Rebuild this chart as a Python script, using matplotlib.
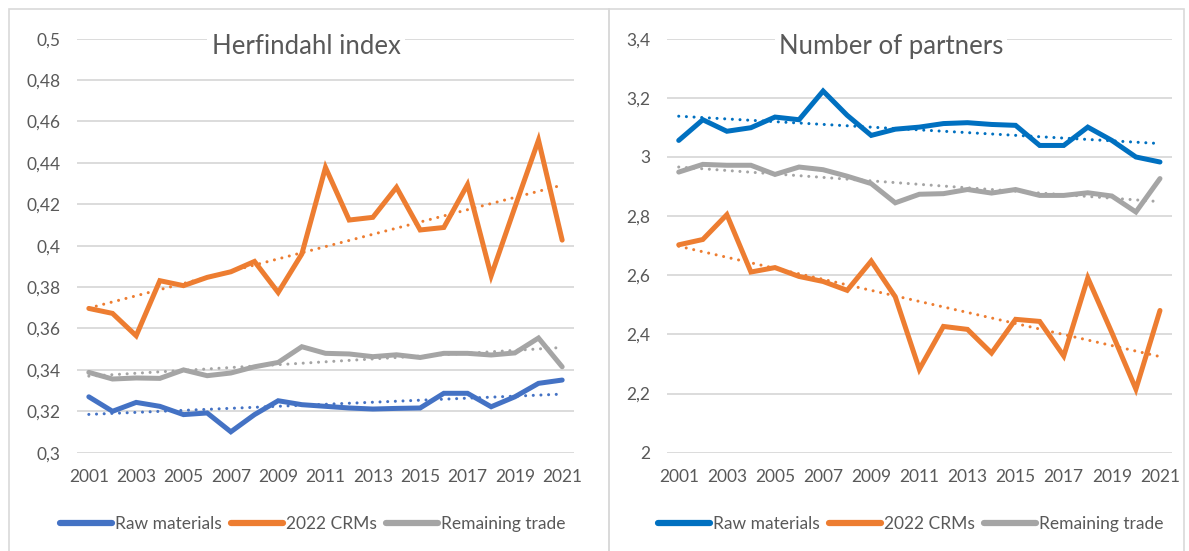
import numpy as np
import matplotlib
matplotlib.use("Agg")
import matplotlib.pyplot as plt
from matplotlib.ticker import FuncFormatter, FixedLocator
from matplotlib.patches import Rectangle

plt.rcParams['font.family'] = ['Lato', 'DejaVu Sans']

years = list(range(2001, 2022))
year_ticks = list(range(2001, 2022, 2))

# Herfindahl index
hhi_raw = [0.327, 0.320, 0.3243, 0.3224, 0.3184, 0.3192, 0.3101, 0.3184, 0.3251, 0.3232,
           0.3224, 0.3216, 0.3211, 0.3214, 0.3216, 0.3287, 0.3287, 0.3222, 0.327, 0.3335, 0.3351]
hhi_crm = [0.3697, 0.3673, 0.3565, 0.3831, 0.3807, 0.3847, 0.3874, 0.3924, 0.3774, 0.396,
           0.4378, 0.4124, 0.4137, 0.4282, 0.4076, 0.4088, 0.4295, 0.3855, 0.4185, 0.451, 0.4027]
hhi_rem = [0.3388, 0.3356, 0.3361, 0.3359, 0.3400, 0.3372, 0.3385, 0.3415, 0.3436, 0.3512,
           0.348, 0.3477, 0.3464, 0.3473, 0.346, 0.348, 0.348, 0.3472, 0.3482, 0.3554, 0.3415]

# Number of partners
np_raw = [3.056, 3.126, 3.087, 3.099, 3.135, 3.126, 3.223, 3.141, 3.073, 3.094,
          3.101, 3.113, 3.116, 3.110, 3.107, 3.039, 3.039, 3.101, 3.056, 3.000, 2.983]
np_crm = [2.703, 2.721, 2.805, 2.611, 2.626, 2.596, 2.579, 2.549, 2.648, 2.527,
          2.282, 2.427, 2.417, 2.337, 2.451, 2.444, 2.327, 2.591, 2.406, 2.215, 2.481]
np_rem = [2.949, 2.975, 2.972, 2.972, 2.941, 2.966, 2.957, 2.935, 2.910, 2.845,
          2.874, 2.876, 2.890, 2.878, 2.890, 2.870, 2.870, 2.879, 2.868, 2.814, 2.927]

series_names = ["Raw materials", "2022 CRMs", "Remaining trade"]

W, H = 1189, 551
fig = plt.figure(figsize=(W / 100, H / 100), dpi=100)

GRID = '#D9D9D9'
TXT = '#595959'
ORANGE = '#ED7D31'
GRAY = '#A5A5A5'


def fx(px):
    return px / W


def fy(py):
    return 1 - py / H


def comma_fmt(v, pos):
    s = f"{v:.2f}".rstrip('0').rstrip('.')
    return s.replace('.', ',')


def make_panel(rect, data, colors, yticks, ylim, title, title_x, leg_x):
    ax = fig.add_axes(rect)
    x = np.array(years)
    for vals, col, name in zip(data, colors, series_names):
        ax.plot(x, vals, color=col, lw=3.6, solid_capstyle='round',
                solid_joinstyle='miter', label=name, zorder=3)
    for vals, col in zip(data, colors):
        k, b = np.polyfit(x, vals, 1)
        ax.plot(x, k * x + b, color=col, lw=2.2, linestyle=(0, (0.01, 2.5)),
                dash_capstyle='round', zorder=2)
    ax.set_xlim(years[0] - 0.5, years[-1] + 0.5)
    ax.set_ylim(*ylim)
    ax.yaxis.set_major_locator(FixedLocator(yticks))
    ax.yaxis.set_major_formatter(FuncFormatter(comma_fmt))
    ax.set_xticks(year_ticks)
    ax.set_xticklabels([str(y) for y in year_ticks])
    ax.grid(axis='y', color=GRID, lw=1.3)
    ax.set_axisbelow(True)
    for s in ax.spines.values():
        s.set_visible(False)
    ax.tick_params(axis='both', length=0, colors=TXT, labelsize=12.5)
    ax.tick_params(axis='y', pad=12)
    ax.tick_params(axis='x', pad=12)
    leg = ax.legend(loc='center', bbox_to_anchor=(leg_x, -0.172), ncol=3, frameon=False,
                    handlelength=3.0, handletextpad=0.15, columnspacing=0.55,
                    fontsize=12.5, labelcolor=TXT)
    for h in leg.legend_handles:
        h.set_linewidth(4.5)
        h.set_solid_capstyle('round')
    fig.text(title_x, fy(46.7), title, ha='center', va='center', fontsize=18.5, color=TXT,
             bbox=dict(facecolor='white', edgecolor='none', pad=3), zorder=5)
    return ax


axL = make_panel([fx(77), fy(452.7), fx(574 - 77), (452.7 - 38.7) / H],
                 [hhi_raw, hhi_crm, hhi_rem], ['#4472C4', ORANGE, GRAY],
                 [0.3, 0.32, 0.34, 0.36, 0.38, 0.4, 0.42, 0.44, 0.46, 0.48, 0.5],
                 (0.3, 0.5), "Herfindahl index", fx(306), 0.474)
axR = make_panel([fx(666.7), fy(452.7), fx(1172 - 666.7), (452.7 - 38.7) / H],
                 [np_raw, np_crm, np_rem], ['#0070C0', ORANGE, GRAY],
                 [2.0, 2.2, 2.4, 2.6, 2.8, 3.0, 3.2, 3.4],
                 (2.0, 3.4), "Number of partners", fx(891), 0.483)

# panel borders
fig.add_artist(Rectangle((fx(8.7), fy(560)), fx(600), (560 - 9.3) / H,
                         transform=fig.transFigure, fill=False, edgecolor=GRID, lw=1.2))
fig.add_artist(Rectangle((fx(608.7), fy(560)), fx(575), (560 - 9.3) / H,
                         transform=fig.transFigure, fill=False, edgecolor=GRID, lw=1.2))

fig.savefig("out.png", dpi=100, facecolor='white')
